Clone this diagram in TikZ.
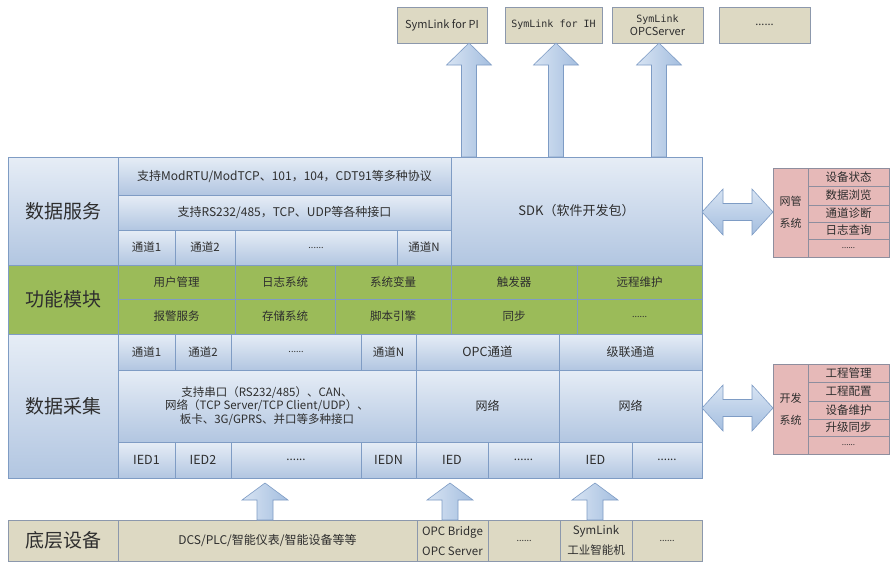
\documentclass[tikz,border=0pt]{standalone}
\usepackage{fontspec}
\setmainfont{Noto Sans CJK SC}
\newfontfamily\monof{DejaVu Sans Mono}
\usetikzlibrary{calc}
\definecolor{cellT}{HTML}{E6EDF6}
\definecolor{cellB}{HTML}{B2C6E1}
\definecolor{cellD}{HTML}{7F9CC4}
\definecolor{grn}{HTML}{9BBB59}
\definecolor{tanc}{HTML}{DDD9C3}
\definecolor{tanD}{HTML}{8C98AC}
\definecolor{pinkc}{HTML}{E6B9B8}
\definecolor{pinkD}{HTML}{8E8E9E}
\definecolor{txt}{HTML}{2E2E2E}
\definecolor{arrL}{HTML}{D8E4F3}
\definecolor{arrR}{HTML}{A4BEDF}
\definecolor{arrD}{HTML}{7E9CC5}
\tikzset{
  base/.style={rectangle, inner sep=0pt, outer sep=0pt, text=txt, align=center, line width=0.6pt},
  bcell/.style={base, draw=cellD, top color=cellT, bottom color=cellB, font=\fontsize{11.5}{14}\selectfont},
  gcell/.style={base, draw=cellD, fill=grn, font=\fontsize{11.5}{14}\selectfont},
  tcell/.style={base, draw=tanD, fill=tanc, font=\fontsize{11}{12}\selectfont},
  pcell/.style={base, draw=pinkD, fill=pinkc, font=\fontsize{11.5}{13}\selectfont},
  big/.style={font=\fontsize{19}{22}\selectfont},
  varrow/.style={draw=arrD, line width=0.6pt, left color=arrL, right color=arrR},
  harrow/.style={draw=arrD, line width=0.6pt, top color=arrL, bottom color=arrR},
}
% name, x1, y1, x2, y2, style, text
\newcommand\cellnode[7]{\node[#6, minimum width={#4pt-#2pt}, minimum height={#5pt-#3pt}] (#1) at ({(#2+#4)/2},{(#3+#5)/2}) {#7};}
% tip, base, half head, head length, half shaft
\newcommand\blkup[5]{\draw[varrow] let \p1=(#1), \p2=(#2) in
  (\x1,\y1) -- (\x1+#3,\y1-#4) -- (\x1+#5,\y1-#4) -- (\x1+#5,\y2) -- (\x1-#5,\y2)
  -- (\x1-#5,\y1-#4) -- (\x1-#3,\y1-#4) -- cycle;}
% left tip, right tip
\newcommand\blkh[2]{\draw[harrow] let \p1=(#1), \p2=(#2) in
  (\x1,\y1) -- (\x1+21pt,\y1+23pt) -- (\x1+21pt,\y1+8.5pt) -- (\x2-21pt,\y1+8.5pt)
  -- (\x2-21pt,\y1+23pt) -- (\x2,\y1) -- (\x2-21pt,\y1-23pt) -- (\x2-21pt,\y1-8.5pt)
  -- (\x1+21pt,\y1-8.5pt) -- (\x1+21pt,\y1-23pt) -- cycle;}
\begin{document}
\begin{tikzpicture}[x=1pt,y=-1pt]
\useasboundingbox (0,0) rectangle (891,563);
\fill[white] (0,0) rectangle (891,563);
% frame of the main block
\node[base, minimum width=694pt, minimum height=321pt] (main) at (355,317.5) {};
% top targets
\cellnode{pi}{397}{7}{487}{43}{tcell}{SymLink for PI}
\cellnode{ih}{505}{7}{602}{43}{tcell}{\monof\fontsize{10}{12}\selectfont SymLink for IH}
\cellnode{opc}{612}{7}{703}{43}{tcell,font=\fontsize{11}{13}\selectfont}{{\monof\fontsize{10}{12}\selectfont SymLink}\\OPCServer}
\cellnode{more}{719}{7}{810}{43}{tcell}{......}
% up arrows to targets
\coordinate (t1) at ($(pi.south)+(27,0)$);
\coordinate (t2) at ($(ih.south)+(2.5,0)$);
\coordinate (t3) at ($(opc.south)+(1.5,0)$);
\blkup{t1}{t1 |- main.north}{22.5pt}{22pt}{7.5pt}
\blkup{t2}{t2 |- main.north}{22.5pt}{22pt}{7.5pt}
\blkup{t3}{t3 |- main.north}{22.5pt}{22pt}{7.5pt}
% data service
\cellnode{dsl}{8}{157}{118}{265}{bcell,big}{数据服务}
\cellnode{proto}{118}{157}{451}{195}{bcell,font=\fontsize{12}{14}\selectfont}{支持ModRTU/ModTCP、101，104，CDT91等多种协议}
\cellnode{intf}{118}{195}{451}{230}{bcell,font=\fontsize{12}{14}\selectfont}{支持RS232/485，TCP、UDP等各种接口}
\cellnode{sc1}{118}{230}{175}{265}{bcell}{通道1}
\cellnode{sc2}{175}{230}{235}{265}{bcell}{通道2}
\cellnode{scd}{235}{230}{397}{265}{bcell,font=\fontsize{9}{10}\selectfont}{......}
\cellnode{scn}{397}{230}{451}{265}{bcell}{通道N}
\cellnode{sdk}{451}{157}{702}{265}{bcell,font=\fontsize{13}{15}\selectfont}{SDK（软件开发包）}
% function modules
\cellnode{fml}{8}{265}{118}{334}{gcell,big}{功能模块}
\cellnode{f1}{118}{265}{235}{299}{gcell}{用户管理}
\cellnode{f2}{235}{265}{335}{299}{gcell}{日志系统}
\cellnode{f3}{335}{265}{451}{299}{gcell}{系统变量}
\cellnode{f4}{451}{265}{577}{299}{gcell}{触发器}
\cellnode{f5}{577}{265}{702}{299}{gcell}{远程维护}
\cellnode{f6}{118}{299}{235}{334}{gcell}{报警服务}
\cellnode{f7}{235}{299}{335}{334}{gcell}{存储系统}
\cellnode{f8}{335}{299}{451}{334}{gcell}{脚本引擎}
\cellnode{f9}{451}{299}{577}{334}{gcell}{同步}
\cellnode{f10}{577}{299}{702}{334}{gcell,font=\fontsize{9}{10}\selectfont}{......}
% data acquisition
\cellnode{dal}{8}{334}{118}{478}{bcell,big}{数据采集}
\cellnode{ac1}{118}{334}{175}{370}{bcell}{通道1}
\cellnode{ac2}{175}{334}{231}{370}{bcell}{通道2}
\cellnode{acd}{231}{334}{361}{370}{bcell,font=\fontsize{9}{10}\selectfont}{......}
\cellnode{acn}{361}{334}{416}{370}{bcell}{通道N}
\cellnode{aco}{416}{334}{559}{370}{bcell,font=\fontsize{12.5}{14}\selectfont}{OPC通道}
\cellnode{acc}{559}{334}{702}{370}{bcell,font=\fontsize{12}{14}\selectfont}{级联通道}
\cellnode{ports}{118}{370}{416}{442}{bcell,font=\fontsize{11.5}{13.5}\selectfont}{支持串口（RS232/485）、CAN、\\网络（TCP Server/TCP Client/UDP）、\\板卡、3G/GPRS、并口等多种接口}
\cellnode{net1}{416}{370}{559}{442}{bcell,font=\fontsize{12}{14}\selectfont}{网络}
\cellnode{net2}{559}{370}{702}{442}{bcell,font=\fontsize{12}{14}\selectfont}{网络}
\cellnode{i1}{118}{442}{175}{478}{bcell,font=\fontsize{12.5}{14}\selectfont}{IED1}
\cellnode{i2}{175}{442}{231}{478}{bcell,font=\fontsize{12.5}{14}\selectfont}{IED2}
\cellnode{id}{231}{442}{361}{478}{bcell}{......}
\cellnode{in}{361}{442}{416}{478}{bcell,font=\fontsize{12.5}{14}\selectfont}{IEDN}
\cellnode{i3}{416}{442}{488}{478}{bcell,font=\fontsize{12.5}{14}\selectfont}{IED}
\cellnode{i3d}{488}{442}{559}{478}{bcell}{......}
\cellnode{i4}{559}{442}{632}{478}{bcell,font=\fontsize{12.5}{14}\selectfont}{IED}
\cellnode{i4d}{632}{442}{702}{478}{bcell}{......}
\draw[cellD, line width=1pt] (main.north west) rectangle (main.south east);
% bottom devices
\cellnode{bl}{8}{520}{118}{561}{tcell,big}{底层设备}
\cellnode{dcs}{118}{520}{417}{561}{tcell,font=\fontsize{12}{14}\selectfont}{DCS/PLC/智能仪表/智能设备等等}
\cellnode{opcb}{417}{520}{488}{561}{tcell,font=\fontsize{11.5}{20}\selectfont}{OPC Bridge\\OPC Server}
\cellnode{bd1}{488}{520}{560}{561}{tcell,font=\fontsize{9}{10}\selectfont}{......}
\cellnode{sym}{560}{520}{632}{561}{tcell,font=\fontsize{11.5}{20}\selectfont}{SymLink\\工业智能机}
\cellnode{bd2}{632}{520}{702}{561}{tcell,font=\fontsize{9}{10}\selectfont}{......}
% bottom up arrows
\coordinate (u1) at ($(dcs.north)+(-2.5,-37)$);
\coordinate (u2) at ($(opcb.north)+(-2.5,-37)$);
\coordinate (u3) at ($(sym.north)+(-1,-37)$);
\blkup{u1}{u1 |- dcs.north}{23pt}{17pt}{8pt}
\blkup{u2}{u2 |- opcb.north}{23pt}{17pt}{8pt}
\blkup{u3}{u3 |- sym.north}{23pt}{17pt}{8pt}
% network management system
\cellnode{nm}{773}{168}{808}{257}{pcell,font=\fontsize{11}{22}\selectfont}{网管\\系统}
\cellnode{n1}{808}{168}{889}{186}{pcell}{设备状态}
\cellnode{n2}{808}{186}{889}{205}{pcell}{数据浏览}
\cellnode{n3}{808}{205}{889}{222}{pcell}{通道诊断}
\cellnode{n4}{808}{222}{889}{239}{pcell}{日志查询}
\cellnode{n5}{808}{239}{889}{257}{pcell,font=\fontsize{8}{10}\selectfont}{......}
% development system
\cellnode{dv}{773}{364}{808}{454}{pcell,font=\fontsize{11}{22}\selectfont}{开发\\系统}
\cellnode{d1}{808}{364}{889}{382}{pcell}{工程管理}
\cellnode{d2}{808}{382}{889}{401}{pcell}{工程配置}
\cellnode{d3}{808}{401}{889}{419}{pcell}{设备维护}
\cellnode{d4}{808}{419}{889}{436}{pcell}{升级同步}
\cellnode{d5}{808}{436}{889}{454}{pcell,font=\fontsize{8}{10}\selectfont}{......}
% two-way arrows
\coordinate (h1) at ($(sdk.east)+(0,1)$);
\coordinate (h2) at ($(net2.east)+(0,2)$);
\blkh{h1}{nm.west}
\blkh{h2}{dv.west}
\end{tikzpicture}
\end{document}
